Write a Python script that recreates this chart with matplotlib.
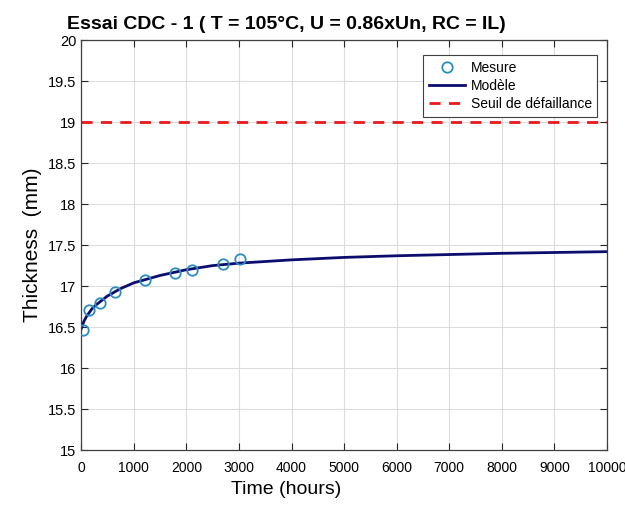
import numpy as np
import matplotlib.pyplot as plt

plt.rcParams['font.family'] = ['Liberation Sans', 'DejaVu Sans']

t_mesure = [25, 140, 350, 650, 1220, 1790, 2115, 2700, 3025]
y_mesure = [16.46, 16.71, 16.80, 16.93, 17.07, 17.16, 17.20, 17.27, 17.33]

# Courbe du modèle (points relevés)
t_modele = [0, 50, 100, 200, 300, 500, 750, 1000, 1500, 2000, 2500, 3000,
            4000, 5000, 6000, 7000, 8000, 9000, 10000]
y_modele = [16.48, 16.57, 16.63, 16.72, 16.78, 16.88, 16.97, 17.04, 17.13,
            17.20, 17.25, 17.28, 17.32, 17.35, 17.37, 17.385, 17.40, 17.41, 17.42]

seuil = 19
x_ticks = list(range(0, 10001, 1000))
y_ticks = [15, 15.5, 16, 16.5, 17, 17.5, 18, 18.5, 19, 19.5, 20]

fig = plt.figure(figsize=(6.25, 5.08), dpi=100)
ax = fig.add_axes([0.13, 0.114, 0.841, 0.807])

ax.plot(t_mesure, y_mesure, 'o', mfc='none', mec='#2b8cbe', mew=1.3, ms=7.5,
        label='Mesure', zorder=3)
ax.plot(t_modele, y_modele, '-', color='#0c0c6e', lw=2, label='Modèle', zorder=2)
ax.axhline(seuil, color='#e8191c', lw=2, ls=(0, (4, 3)), label='Seuil de défaillance')

ax.set_xlim(0, 10000)
ax.set_ylim(15, 20)
ax.set_xticks(x_ticks)
ax.set_yticks(y_ticks)
ax.set_yticklabels([f'{v:g}' for v in y_ticks])
ax.grid(True, color='#dcdcdc', lw=0.8)
ax.set_axisbelow(True)
ax.tick_params(direction='in', length=5, labelsize=10.5, colors='#262626',
               top=True, right=True, labelcolor='black')
ax.tick_params(axis='x', pad=8, labelsize=10)
for s in ax.spines.values():
    s.set_color('#404040')
    s.set_linewidth(0.9)

ax.set_xlabel('Time (hours)', fontsize=14)
ax.xaxis.set_label_coords(0.39, -0.075)
ax.set_ylabel('Thickness  (mm)', fontsize=15)
ax.set_title('Essai CDC - 1 ( T = 105°C, U = 0.86xUn, RC = IL)',
             fontsize=14, fontweight='bold', x=0.39, pad=8)

leg = ax.legend(loc='upper right', bbox_to_anchor=(0.987, 0.97), fontsize=10,
                fancybox=False, edgecolor='#404040', framealpha=1,
                handlelength=2.6, handletextpad=0.4, borderpad=0.4,
                labelspacing=0.3, borderaxespad=0.2)
leg.get_frame().set_linewidth(0.8)

fig.savefig('out.png', dpi=100)
